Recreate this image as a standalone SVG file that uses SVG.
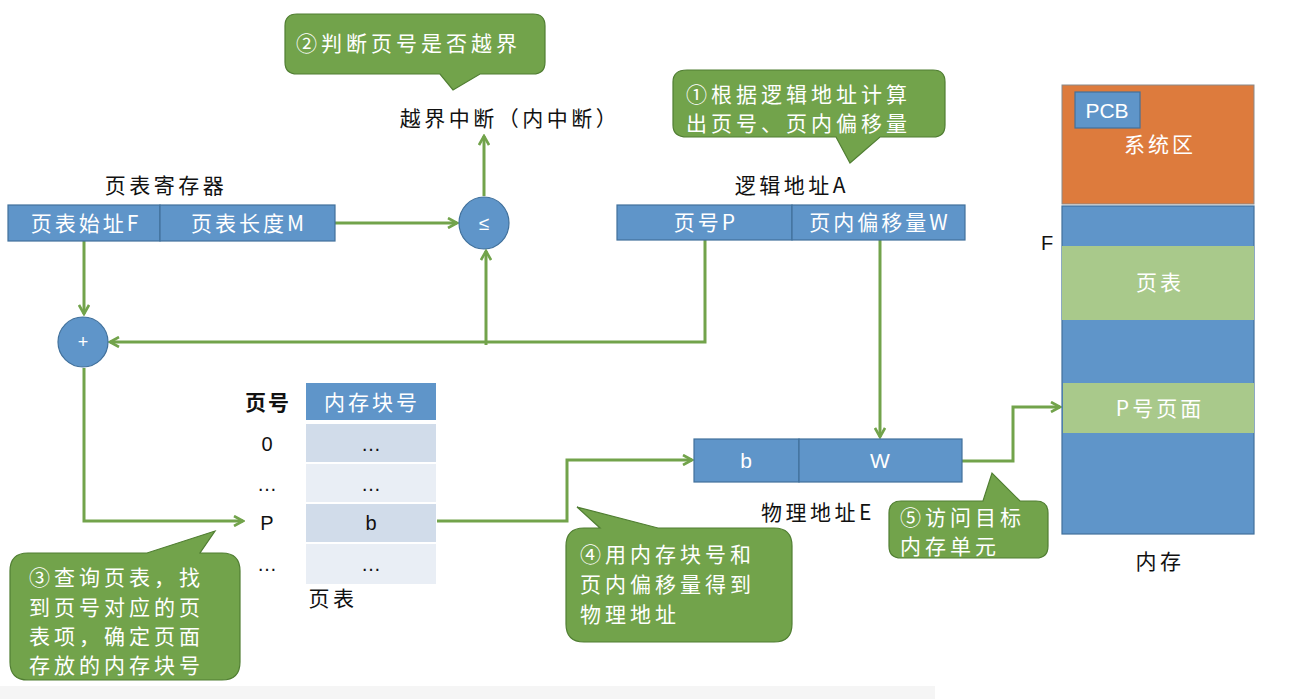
<svg xmlns="http://www.w3.org/2000/svg" width="1290" height="699" viewBox="0 0 1290 699">
<defs>
<style>
text{font-family:"Noto Sans CJK SC","Liberation Sans",sans-serif;}
.blue{fill:#5f95c9;stroke:#41719c;stroke-width:1.2;}
.lg{fill:#a9c98b;}
.call{fill:#72a34b;stroke:#507e32;stroke-width:1.2;}
.wc{fill:#ffffff;font-size:21px;letter-spacing:3px;text-anchor:middle;}
.k{fill:#111111;font-size:21px;letter-spacing:3.5px;text-anchor:middle;}
.cl{fill:#ffffff;font-size:21px;letter-spacing:4px;}
.sym{font-family:"Liberation Sans",sans-serif;letter-spacing:0;}
.conn{fill:none;stroke:#72a34b;stroke-width:3;}
</style>
<marker id="ah" viewBox="0 0 12 12" refX="10" refY="6" markerWidth="12" markerHeight="12" markerUnits="userSpaceOnUse" orient="auto">
<path d="M1,1 L10,6 L1,11" fill="none" stroke="#72a34b" stroke-width="2.6"/>
</marker>
</defs>
<rect x="0" y="0" width="1290" height="699" fill="#ffffff"/>
<rect x="0" y="686" width="935" height="13" fill="#f5f5f5"/>

<g id="connectors">
<path class="conn" d="M335,223 L457,223" marker-end="url(#ah)"/>
<path class="conn" d="M484,196 L484,136" marker-end="url(#ah)"/>
<path class="conn" d="M486,345 L486,251" marker-end="url(#ah)"/>
<path class="conn" d="M705,240 L705,342 L110,342" marker-end="url(#ah)"/>
<path class="conn" d="M84,241 L84,314" marker-end="url(#ah)"/>
<path class="conn" d="M84,368 L84,521 L243,521"  marker-end="url(#ah)"/>
<path class="conn" d="M880,240 L880,437" marker-end="url(#ah)"/>
<path class="conn" d="M437,521 L567,521 L567,460 L692,460" marker-end="url(#ah)"/>
<path class="conn" d="M962,461 L1013,461 L1013,407 L1060,407" marker-end="url(#ah)"/>
</g>

<g id="callout2">
<path class="call" d="M297,14 H533 Q545,14 545,26 V62 Q545,74 533,74 H480 L453,90 L440,74 H297 Q285,74 285,62 V26 Q285,14 297,14 Z"/>
<text class="cl" x="296" y="51">②判断页号是否越界</text>
</g>
<g id="interrupt">
<text class="k" x="510" y="126">越界中断（内中断）</text>
</g>

<g id="callout1">
<path class="call" d="M687,70 H933 Q945,70 945,82 V125 Q945,137 933,137 H880 L850,163 L836,137 H687 Q673,137 673,125 V82 Q673,70 687,70 Z"/>
<text class="cl" x="686" y="102">①根据逻辑地址计算</text>
<text class="cl" x="686" y="131">出页号、页内偏移量</text>
</g>

<g id="pt-register">
<text class="k" x="166" y="193">页表寄存器</text>
<rect class="blue" x="8" y="205" width="152" height="36"/>
<rect class="blue" x="160" y="205" width="175" height="36"/>
<text class="wc" x="86" y="231">页表始址F</text>
<text class="wc" x="249" y="231">页表长度M</text>
</g>

<g id="compare">
<ellipse class="blue" cx="484" cy="223" rx="25" ry="26"/>
<text class="wc sym" x="484" y="230" style="font-size:19px">≤</text>
</g>

<g id="adder">
<circle class="blue" cx="83" cy="342" r="25"/>
<text class="wc sym" x="83" y="348" style="font-size:18px">+</text>
</g>

<g id="logical-address">
<text class="k" x="792" y="193">逻辑地址A</text>
<rect class="blue" x="617" y="205" width="175" height="35"/>
<rect class="blue" x="792" y="205" width="173" height="35"/>
<text class="wc" x="706" y="230">页号P</text>
<text class="wc" x="880" y="230">页内偏移量W</text>
</g>

<g id="page-table">
<text class="k" x="268" y="410" style="font-weight:bold;letter-spacing:2px">页号</text>
<rect x="306" y="383" width="130" height="37" fill="#5f95c9"/>
<text class="wc" x="372" y="410">内存块号</text>
<rect x="306" y="424" width="130" height="38" fill="#d1dcea"/>
<rect x="306" y="464" width="130" height="38" fill="#e9eef5"/>
<rect x="306" y="504" width="130" height="38" fill="#d1dcea"/>
<rect x="306" y="544" width="130" height="40" fill="#e9eef5"/>
<text class="k sym" x="267" y="451" style="font-size:20px">0</text>
<text class="k sym" x="371" y="451" style="font-size:20px">…</text>
<text class="k sym" x="267" y="491" style="font-size:20px">…</text>
<text class="k sym" x="371" y="491" style="font-size:20px">…</text>
<text class="k sym" x="267" y="530" style="font-size:20px">P</text>
<text class="k sym" x="371" y="530" style="font-size:20px">b</text>
<text class="k sym" x="267" y="571" style="font-size:20px">…</text>
<text class="k sym" x="371" y="571" style="font-size:20px">…</text>
<text class="k" x="333" y="606">页表</text>
</g>

<g id="callout3">
<path class="call" d="M30,553 H147 L215,531 L200,553 H222 Q240,553 240,571 V662 Q240,680 222,680 H28 Q10,680 10,662 V571 Q10,553 28,553 Z"/>
<text class="cl" x="29" y="585">③查询页表，找</text>
<text class="cl" x="29" y="615">到页号对应的页</text>
<text class="cl" x="29" y="644">表项，确定页面</text>
<text class="cl" x="29" y="673">存放的内存块号</text>
</g>

<g id="physical-address">
<rect class="blue" x="694" y="439" width="105" height="43"/>
<rect class="blue" x="799" y="439" width="163" height="43"/>
<text class="wc sym" x="746" y="468">b</text>
<text class="wc sym" x="880" y="468">W</text>
<text class="k" x="818" y="520">物理地址E</text>
</g>

<g id="callout4">
<path class="call" d="M584,528 H600 L577,507 L658,528 H774 Q792,528 792,546 V624 Q792,642 774,642 H584 Q566,642 566,624 V546 Q566,528 584,528 Z"/>
<text class="cl" x="580" y="562">④用内存块号和</text>
<text class="cl" x="580" y="592">页内偏移量得到</text>
<text class="cl" x="580" y="622">物理地址</text>
</g>

<g id="callout5">
<path class="call" d="M901,501 H983 L992,473 L1020,501 H1036 Q1048,501 1048,513 V546 Q1048,558 1036,558 H901 Q889,558 889,546 V513 Q889,501 901,501 Z"/>
<text class="cl" x="900" y="525">⑤访问目标</text>
<text class="cl" x="900" y="554">内存单元</text>
</g>

<g id="memory">
<rect x="1062" y="85" width="192" height="119" fill="#dd7b3d" stroke="#8a8a8a" stroke-width="1"/>
<rect class="blue" x="1075" y="92" width="65" height="36"/>
<text class="wc sym" x="1107" y="118" style="letter-spacing:0">PCB</text>
<text class="wc" x="1160" y="152">系统区</text>
<rect class="blue" x="1062" y="206" width="192" height="328"/>
<rect class="lg" x="1062" y="246" width="192" height="74"/>
<text class="wc" x="1160" y="290">页表</text>
<rect class="lg" x="1063" y="383" width="191" height="50"/>
<text class="wc" x="1160" y="416">P号页面</text>
<text class="k sym" x="1047" y="250" style="font-size:20px">F</text>
<text class="k" x="1160" y="569">内存</text>
</g>
</svg>
